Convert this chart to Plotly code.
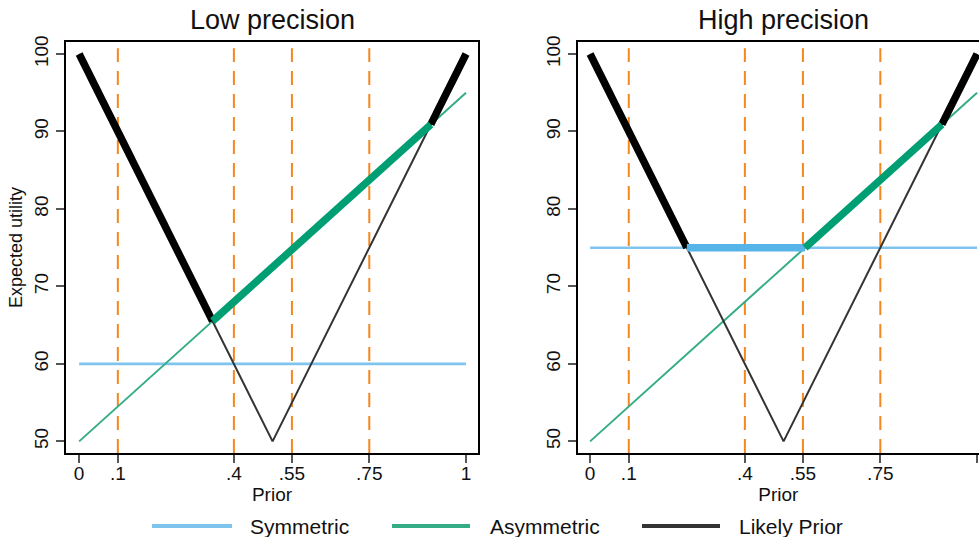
import numpy as np
import plotly.graph_objects as go

# ---- data ----
prior = [0.0, 0.5, 1.0]
likely_prior = [100, 50, 100]            # V-shaped expected utility
asym_x = [0.0, 1.0]
asym_y = [50, 95]
sym_x = [0.0, 1.0]
sym_low = 60
sym_high = 75
cutoffs = [0.1, 0.4, 0.55, 0.75]
xticks = [0, 0.1, 0.4, 0.55, 0.75, 1]
xticklabels = ["0", ".1", ".4", ".55", ".75", "1"]
yticks = [50, 60, 70, 80, 90, 100]
panels = ["Low precision", "High precision"]

C_SYM_THIN = "#7fc4ec"
C_ASY_THIN = "#34ad86"
C_LIK_THIN = "#333333"
C_SYM = "#56B4E9"
C_ASY = "#009E73"
C_LIK = "#000000"
C_ORANGE = "#F5871F"
FONT = "Liberation Sans, Arial, sans-serif"


def lin(x0, y0, x1, y1):
    m = (y1 - y0) / (x1 - x0)
    return m, y0 - m * x0


def envelope(sym):
    # upper envelope of the three utility curves, split by which curve is max
    lL = lin(prior[0], likely_prior[0], prior[1], likely_prior[1])
    lR = lin(prior[1], likely_prior[1], prior[2], likely_prior[2])
    la = lin(asym_x[0], asym_y[0], asym_x[1], asym_y[1])
    ls = (0.0, sym)
    lines = {"L": lL, "R": lR, "A": la, "S": ls}
    pts = {0.0, 1.0}
    keys = list(lines)
    for i in range(len(keys)):
        for j in range(i + 1, len(keys)):
            m1, b1 = lines[keys[i]]
            m2, b2 = lines[keys[j]]
            if m1 != m2:
                x = (b2 - b1) / (m1 - m2)
                if 0 < x < 1:
                    pts.add(x)
    pts = sorted(pts)

    def val(k, x):
        m, b = lines[k]
        return m * x + b

    def lik(x):
        return val("L", x) if x <= 0.5 else val("R", x)

    segs = []
    for a, b in zip(pts[:-1], pts[1:]):
        mid = (a + b) / 2
        cand = {"lik": lik(mid), "asy": val("A", mid), "sym": val("S", mid)}
        best = max(cand, key=cand.get)
        if best == "lik":
            f = lik
        elif best == "asy":
            f = lambda x: val("A", x)
        else:
            f = lambda x: val("S", x)
        if segs and segs[-1][0] == best:
            segs[-1][1].append(b)
            segs[-1][2].append(f(b))
        else:
            segs.append([best, [a, b], [f(a), f(b)]])
    return segs


fig = go.Figure()
xdom = [[66 / 979, 478 / 979], [577.7 / 979, 1.0]]
xr = [[-0.034, 1.031], [-0.032, 1.005]]
ydom = [1 - 453 / 537, 1 - 42 / 537]
yr = [48.5, 101.55]

for p, sym in enumerate([sym_low, sym_high]):
    xa = "x" if p == 0 else "x2"
    ya = "y" if p == 0 else "y2"
    fig.add_trace(go.Scatter(x=sym_x, y=[sym, sym], mode="lines",
                             line=dict(color=C_SYM_THIN, width=2.6),
                             xaxis=xa, yaxis=ya, showlegend=False, hoverinfo="skip"))
    fig.add_trace(go.Scatter(x=asym_x, y=asym_y, mode="lines",
                             line=dict(color=C_ASY_THIN, width=2),
                             xaxis=xa, yaxis=ya, showlegend=False, hoverinfo="skip"))
    fig.add_trace(go.Scatter(x=prior, y=likely_prior, mode="lines",
                             line=dict(color=C_LIK_THIN, width=2),
                             xaxis=xa, yaxis=ya, showlegend=False, hoverinfo="skip"))
    segs = envelope(sym)
    order = {"lik": 0, "sym": 1, "asy": 2}
    colors = {"lik": C_LIK, "sym": C_SYM, "asy": C_ASY}
    for kind, xs, ys in sorted(segs, key=lambda s: order[s[0]]):
        fig.add_trace(go.Scatter(x=xs, y=ys, mode="lines",
                                 line=dict(color=colors[kind], width=7.5),
                                 xaxis=xa, yaxis=ya, showlegend=False, hoverinfo="skip"))
    for c in cutoffs:
        fig.add_shape(type="line", xref=xa, yref=("y domain" if p == 0 else "y2 domain"),
                      x0=c, x1=c, y0=0, y1=0.985, layer="below",
                      line=dict(color=C_ORANGE, width=2, dash="14px,9px"))

axis_common = dict(showgrid=False, zeroline=False, showline=True, linecolor="#000",
                   linewidth=2, ticks="outside", ticklen=8, tickcolor="#555",
                   tickwidth=1.5, automargin=False,
                   tickfont=dict(size=19, color="#111", family=FONT))

xtitle = dict(text="Prior", font=dict(size=19, family=FONT, color="#111"), standoff=3)

fig.update_layout(
    template="none",
    xaxis=dict(domain=xdom[0], range=xr[0], anchor="y", mirror=True,
               tickvals=xticks, ticktext=xticklabels, ticklabelstandoff=-6,
               title=xtitle, **axis_common),
    yaxis=dict(domain=ydom, range=yr, anchor="x", mirror=True, tickvals=yticks, tickangle=-90,
               title=dict(text="Expected utility", font=dict(size=18, family=FONT, color="#111"), standoff=4),
               **axis_common),
    xaxis2=dict(domain=xdom[1], range=xr[1], anchor="y2", mirror=True,
                tickvals=xticks, ticktext=xticklabels, ticklabelstandoff=-6,
                title=xtitle, **axis_common),
    yaxis2=dict(domain=ydom, range=yr, anchor="x2", mirror=False, tickvals=yticks, tickangle=-90,
                **axis_common),
    width=979, height=537,
    margin=dict(l=0, r=0, t=0, b=0, pad=0),
    plot_bgcolor="white", paper_bgcolor="white",
    showlegend=False,
    font=dict(family=FONT, color="#111"),
)

# panel titles
for p, name in enumerate(panels):
    cx = (xdom[p][0] + (xdom[p][1] if p == 0 else 990 / 979)) / 2
    fig.add_annotation(text=name, xref="paper", yref="paper", x=cx, y=1 - 20 / 537,
                       xanchor="center", yanchor="middle", showarrow=False,
                       font=dict(size=27, family=FONT, color="#111"))

# legend (manual, to match long line keys)
legend_items = [("Symmetric", C_SYM_THIN, 152, 232, 248),
                ("Asymmetric", C_ASY_THIN, 392, 470, 488),
                ("Likely Prior", C_LIK_THIN, 642, 720, 737)]
ly = 1 - 526 / 537
for name, col, x0, x1, tx in legend_items:
    fig.add_shape(type="line", xref="paper", yref="paper", x0=x0 / 979, x1=x1 / 979,
                  y0=ly, y1=ly, line=dict(color=col, width=4))
    fig.add_annotation(text=name, xref="paper", yref="paper", x=tx / 979, y=ly,
                       xanchor="left", yanchor="middle", showarrow=False,
                       font=dict(size=21, family=FONT, color="#111"))

fig.write_html(
    "out.html",
    config={"displayModeBar": False},
    post_script="document.body.style.margin='0px';document.body.style.padding='0px';"
                "document.documentElement.style.overflow='hidden';document.body.style.overflow='hidden';",
)
